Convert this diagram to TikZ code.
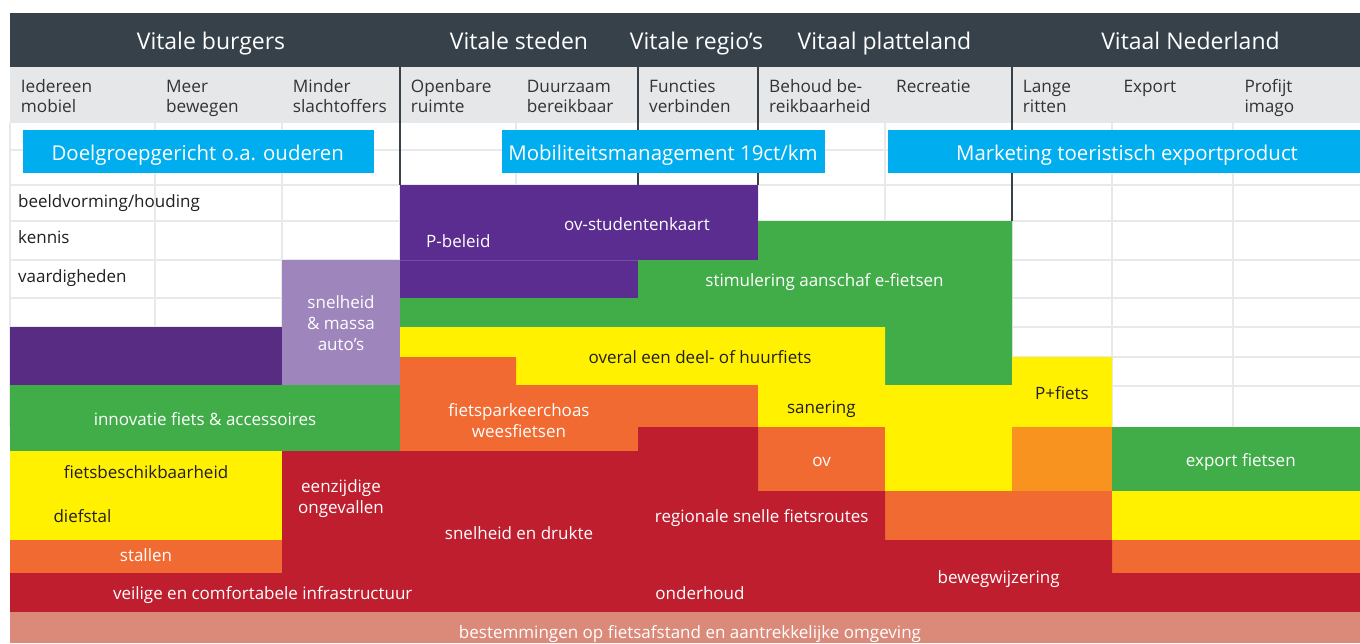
\documentclass[tikz,border=0pt]{standalone}
\usepackage{fontspec}
\setmainfont{Open Sans}
\definecolor{hdr}{HTML}{36414A}
\definecolor{subg}{HTML}{E6E7E8}
\definecolor{gridc}{HTML}{E8E9EA}
\definecolor{ink}{HTML}{231F20}
\definecolor{subink}{HTML}{333333}
\definecolor{cblue}{HTML}{00AEEF}
\definecolor{cpurple}{HTML}{5C2D91}
\definecolor{cpurpleb}{HTML}{582C83}
\definecolor{clilac}{HTML}{9E85BC}
\definecolor{cgreen}{HTML}{41AD49}
\definecolor{cyellow}{HTML}{FFF100}
\definecolor{corange}{HTML}{F16A31}
\definecolor{camber}{HTML}{F7931E}
\definecolor{cred}{HTML}{BE1E2D}
\definecolor{csalmon}{HTML}{DB8A7A}
\newcommand{\twoc}[2]{\begin{tabular}[t]{@{}c@{}}#1\\#2\end{tabular}}
\newcommand{\twol}[2]{\begin{tabular}[t]{@{}l@{}}#1\\#2\end{tabular}}
\newcommand{\threec}[3]{\begin{tabular}[t]{@{}c@{}}#1\\#2\\#3\end{tabular}}
\begin{document}
\begin{tikzpicture}[x=1pt,y=-1pt,
  hd/.style={inner sep=0,anchor=base,text=white,font=\fontsize{23}{27}\selectfont},
  sub/.style={inner sep=0,anchor=base west,text=subink,font=\fontsize{17.2}{20.3}\selectfont},
  bl/.style={inner sep=0,anchor=base,text=white,font=\fontsize{20.4}{24}\selectfont},
  rowlab/.style={inner sep=0,anchor=base west,text=ink,font=\fontsize{17}{21}\selectfont},
  lab/.style={inner sep=0,anchor=base,text=white,font=\fontsize{17}{21}\selectfont},
  dlab/.style={lab,text=ink},
  gridline/.style={draw=gridc,line width=1.5pt},
  sepline/.style={draw=hdr,line width=2.6pt}]
\useasboundingbox (0,0) rectangle (1360,643);
\fill[white] (0,0) rectangle (1360,643);
% grid
\foreach \gx in {10,155,282,400,516,638,758,885,1012,1233}
  \draw[gridline] (\gx,123) -- (\gx,427);
\draw[draw=gridc,line width=2.4pt] (1112,123) -- (1112,427);
\foreach \gy in {150,185,221,260,298,327,357,386}
  \draw[gridline] (10,\gy) -- (1360,\gy);
% header
\fill[hdr] (10,13) rectangle (1360,67);
\fill[subg] (10,67) rectangle (1360,123);
\foreach \sx in {400,638,758}
  \draw[sepline] (\sx,67) -- (\sx,185);
\draw[sepline] (1012,67) -- (1012,221);
% blue bars
\fill[cblue] (23,130) rectangle (374,173);
\fill[cblue] (502,130) rectangle (825,173);
\fill[cblue] (888,130) rectangle (1360,173);
% purple
\fill[cpurple] (400,185) rectangle (758,260);
\fill[cpurple] (400,260) rectangle (638,298);
\draw[draw=white,opacity=0.15,line width=1pt] (400,260) -- (638,260);
\fill[cpurpleb] (10,327) rectangle (282,385);
\fill[clilac] (282,260) rectangle (400,385);
% green
\fill[cgreen] (758,221) -- (1012,221) -- (1012,385) -- (885,385) -- (885,327) -- (400,327) -- (400,298) -- (638,298) -- (638,260) -- (758,260) -- cycle;
\fill[cgreen] (10,385) rectangle (400,451);
\fill[cgreen] (1112,427) rectangle (1360,491);
% yellow
\fill[cyellow] (400,327) -- (885,327) -- (885,385) -- (1012,385) -- (1012,357) -- (1112,357) -- (1112,427) -- (1012,427) -- (1012,491) -- (885,491) -- (885,427) -- (758,427) -- (758,385) -- (516,385) -- (516,357) -- (400,357) -- cycle;
\fill[cyellow] (10,451) rectangle (282,540);
\fill[cyellow] (1112,491) rectangle (1360,540);
% orange
\fill[corange] (400,357) -- (516,357) -- (516,385) -- (638,385) -- (638,451) -- (400,451) -- cycle;
\fill[corange] (638,385) rectangle (758,427);
\fill[corange] (758,427) rectangle (885,491);
\fill[corange] (10,540) rectangle (282,573);
\fill[corange] (885,491) rectangle (1112,540);
\fill[corange] (1112,540) rectangle (1360,573);
\fill[camber] (1012,427) rectangle (1112,491);
% red
\fill[cred] (10,573) -- (282,573) -- (282,451) -- (638,451) -- (638,427) -- (758,427) -- (758,491) -- (885,491) -- (885,540) -- (1112,540) -- (1112,573) -- (1360,573) -- (1360,612) -- (10,612) -- cycle;
% salmon
\fill[csalmon] (10,612) rectangle (1360,643);
% header texts
\node[hd] (h1) at (211,49) {Vitale burgers};
\node[hd] (h2) at (519,49) {Vitale steden};
\node[hd] (h3) at (696.5,49) {Vitale regio’s};
\node[hd] (h4) at (884.5,49) {Vitaal platteland};
\node[hd] (h5) at (1190.5,49) {Vitaal Nederland};
% sub header texts
\node[sub] (s1) at (20.7,92.3) {\twol{Iedereen}{mobiel}};
\node[sub] (s2) at (166,92.3) {\twol{Meer}{bewegen}};
\node[sub] (s3) at (292.7,92.3) {\twol{Minder}{slachtoffers}};
\node[sub] (s4) at (410.7,92.3) {\twol{Openbare}{ruimte}};
\node[sub] (s5) at (526.7,92.3) {\twol{Duurzaam}{bereikbaar}};
\node[sub] (s6) at (649,92.3) {\twol{Functies}{verbinden}};
\node[sub] (s7) at (769,92.3) {\twol{Behoud be-}{reikbaarheid}};
\node[sub] (s8) at (896,92.3) {Recreatie};
\node[sub] (s9) at (1022.7,92.3) {\twol{Lange}{ritten}};
\node[sub] (s10) at (1123.3,92.3) {Export};
\node[sub] (s11) at (1244.3,92.3) {\twol{Profijt}{imago}};
% blue texts
\node[bl] (b1) at (197.7,160.7) {Doelgroepgericht o.a. ouderen};
\node[bl] (b2) at (663,160.7) {Mobiliteitsmanagement 19ct/km};
\node[bl] (b3) at (1127,160.7) {Marketing toeristisch exportproduct};
% row labels
\node[rowlab] (r1) at (18,207.3) {beeldvorming/houding};
\node[rowlab] (r2) at (18,243.3) {kennis};
\node[rowlab] (r3) at (18,282.3) {vaardigheden};
% box labels
\node[lab,anchor=base west] (pbel) at (426,247.7) {P-beleid};
\node[lab] (ovst) at (637,230) {ov-studentenkaart};
\node[lab] (stim) at (824.5,286.7) {stimulering aanschaf e-fietsen};
\node[lab] (snm) at (341,308) {\threec{snelheid}{\& massa}{auto’s}};
\node[lab] (inno) at (205,425) {innovatie fiets \& accessoires};
\node[dlab] (fbes) at (146,478.3) {fietsbeschikbaarheid};
\node[dlab] (dief) at (82.5,522.3) {diefstal};
\node[lab] (stal) at (146,561.7) {stallen};
\node[lab] (veil) at (262.7,599) {veilige en comfortabele infrastructuur};
\node[lab] (eenz) at (341,492.3) {\twoc{eenzijdige}{ongevallen}};
\node[dlab] (over) at (700,363.3) {overal een deel- of huurfiets};
\node[lab] (fpc) at (519,416) {\twoc{fietsparkeerchoas}{weesfietsen}};
\node[dlab] (san) at (821.3,413.3) {sanering};
\node[lab] (ov) at (821.7,466) {ov};
\node[lab] (reg) at (761.7,522.3) {regionale snelle fietsroutes};
\node[lab] (snd) at (519,539.3) {snelheid en drukte};
\node[lab] (ond) at (700,599.3) {onderhoud};
\node[dlab] (pfi) at (1062,399.3) {P+fiets};
\node[lab] (exf) at (1240.8,466) {export fietsen};
\node[lab] (bew) at (998.7,583.3) {bewegwijzering};
\node[lab] (best) at (690,638.3) {bestemmingen op fietsafstand en aantrekkelijke omgeving};
\end{tikzpicture}
\end{document}
